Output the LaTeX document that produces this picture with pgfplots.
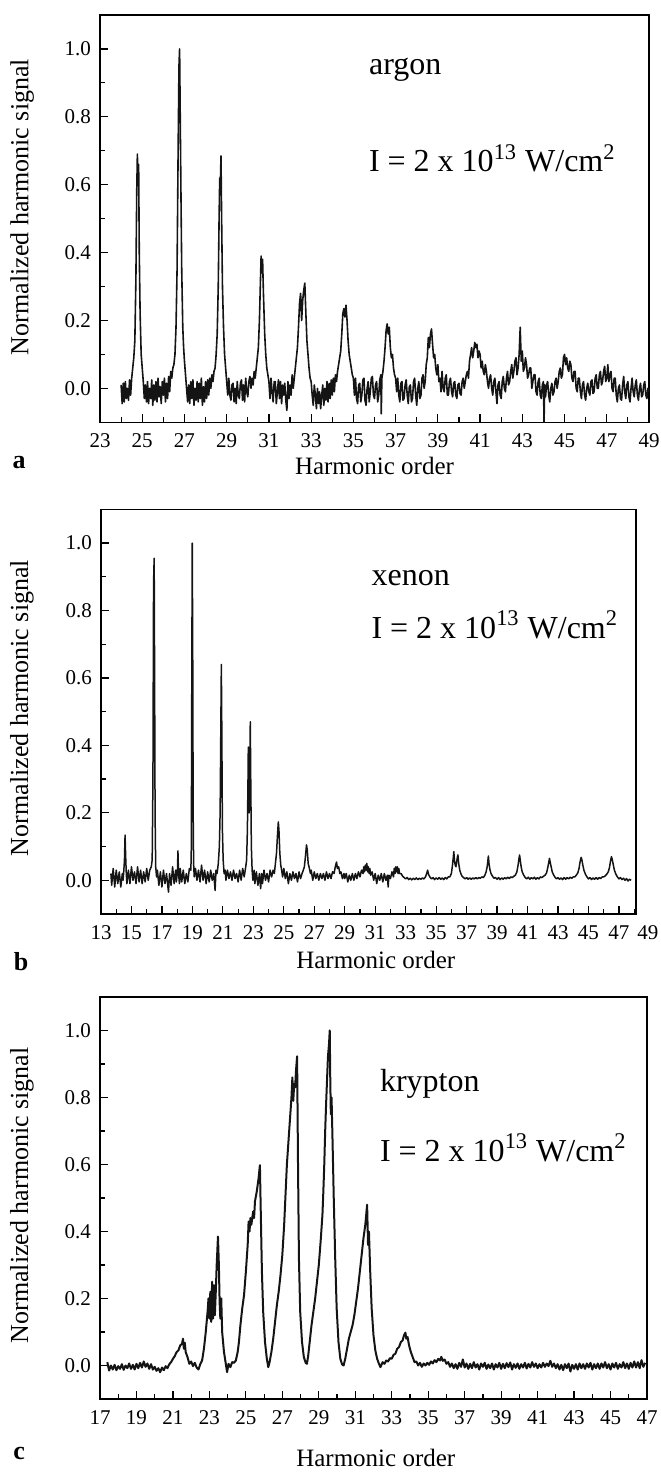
\documentclass[border=0pt]{standalone}
\usepackage{fontspec}
\setmainfont{Liberation Serif}
\usepackage{pgfplots}
\pgfplotsset{compat=1.18}
\pgfplotsset{hhg/.style={
  scale only axis, anchor=south west, clip=false,
  ymin=-0.1, ymax=1.1,
  ytick={0,0.2,0.4,0.6,0.8,1.0},
  minor ytick={0.1,0.3,0.5,0.7,0.9},
  yticklabel style={/pgf/number format/fixed, /pgf/number format/fixed zerofill, /pgf/number format/precision=1, anchor=east, xshift=-1pt},
  /pgf/number format/assume math mode=true,
  tick align=inside, xtick pos=left, ytick pos=left,
  tick style={line width=0.6pt, black},
  major tick length=4pt, minor tick length=2.5pt,
  axis line style={line width=0.7pt},
  tick label style={font=\fontsize{10.5}{12}\selectfont},
  xticklabel style={yshift=-2.3pt},
  xlabel style={font=\fontsize{12.5}{15}\selectfont, anchor=center},
  ylabel style={font=\fontsize{13}{15}\selectfont, anchor=center},
  ylabel={Normalized harmonic signal},
  xlabel={Harmonic order},
}}
\tikzset{annot/.style={anchor=base west, font=\fontsize{16}{19}\selectfont},
   panlet/.style={font=\bfseries\fontsize{13}{15}\selectfont}}
\begin{document}
\begin{tikzpicture}
\useasboundingbox (0,0) rectangle (330pt,736.5pt);
% ---------------- panel a: argon
\begin{axis}[hhg, at={(50pt,525.35pt)}, width=274.5pt, height=203.65pt,
  xmin=23, xmax=49, xtick={23,25,...,49}, minor xtick={24,26,...,48},
  xlabel style={at={(axis description cs:0.5,-0.1073)}},
  ylabel style={at={(axis description cs:-0.142,0.5286)}}]
\addplot[line width=0.8pt, black!92, line join=round] coordinates {
(24.0,0.01)(24.05,-0.045)(24.1,0.015)(24.15,-0.04)(24.2,0.02)(24.25,-0.03)(24.3,0.0)(24.35,-0.035)(24.4,0.025)(24.45,-0.02)(24.5,0.03)
(24.55,0.06)(24.6,0.09)(24.65,0.14)(24.7,0.32)(24.74,0.58)(24.77,0.69)(24.8,0.6)(24.83,0.66)(24.86,0.4)(24.9,0.22)(24.95,0.1)(25.0,0.06)(25.05,0.02)
(25.1,-0.03)(25.15,0.01)(25.2,-0.04)(25.25,0.02)(25.3,-0.045)(25.35,0.0)(25.4,-0.03)(25.45,0.025)(25.5,-0.05)(25.55,0.01)(25.6,-0.035)(25.65,0.02)(25.7,-0.04)(25.75,0.03)(25.8,-0.025)(25.85,0.005)(25.9,-0.045)(25.95,0.02)(26.0,-0.02)(26.05,0.03)(26.1,-0.04)(26.15,0.015)(26.2,-0.03)(26.25,0.035)(26.3,-0.01)(26.35,0.05)
(26.4,0.03)(26.45,0.06)(26.5,0.07)(26.55,0.1)(26.6,0.18)(26.65,0.35)(26.7,0.7)(26.74,0.95)(26.77,1.0)(26.8,0.8)(26.83,0.6)(26.87,0.35)(26.92,0.18)(26.96,0.12)(27.0,0.08)(27.05,0.04)(27.1,0.0)(27.15,-0.04)
(27.2,0.01)(27.25,-0.045)(27.3,0.02)(27.35,-0.03)(27.4,0.025)(27.45,-0.05)(27.5,0.0)(27.55,-0.035)(27.6,0.02)(27.65,-0.04)(27.7,0.015)(27.75,-0.03)(27.8,0.03)(27.85,-0.05)(27.9,0.005)(27.95,-0.04)(28.0,0.02)(28.05,-0.03)(28.1,0.025)(28.15,-0.02)(28.2,0.03)(28.25,0.0)(28.3,0.04)
(28.35,0.02)(28.4,0.05)(28.45,0.06)(28.5,0.1)(28.55,0.16)(28.6,0.3)(28.64,0.5)(28.67,0.62)(28.7,0.6)(28.73,0.685)(28.76,0.5)(28.8,0.3)(28.85,0.18)(28.9,0.1)(28.95,0.06)(29.0,0.02)(29.05,-0.02)
(29.1,0.03)(29.15,-0.02)(29.2,-0.035)(29.25,0.01)(29.3,0.015)(29.35,-0.04)(29.4,0.0)(29.45,-0.045)(29.5,0.02)(29.55,-0.02)(29.6,-0.03)(29.65,0.015)(29.7,0.025)(29.75,-0.035)(29.8,0.01)(29.85,-0.04)(29.9,0.03)(29.95,-0.01)(30.0,-0.025)(30.05,0.02)(30.1,0.035)(30.15,0.0)(30.2,0.03)(30.25,0.01)(30.3,0.05)
(30.35,0.03)(30.4,0.06)(30.45,0.09)(30.5,0.12)(30.55,0.2)(30.6,0.32)(30.63,0.39)(30.66,0.34)(30.7,0.38)(30.74,0.28)(30.8,0.16)(30.85,0.1)(30.9,0.06)(30.95,0.04)(31.0,0.02)(31.05,-0.03)
(31.1,0.03)(31.15,-0.01)(31.2,-0.04)(31.25,0.02)(31.3,0.02)(31.35,-0.045)(31.4,-0.01)(31.45,0.025)(31.5,-0.03)(31.55,0.02)(31.6,-0.045)(31.65,0.01)(31.7,-0.02)(31.75,0.015)(31.8,-0.035)(31.85,-0.065)(31.9,0.02)(31.95,-0.03)(32.0,0.01)(32.05,-0.02)(32.1,0.04)(32.15,0.0)(32.2,0.03)
(32.25,0.06)(32.3,0.09)(32.35,0.12)(32.4,0.18)(32.45,0.25)(32.5,0.28)(32.55,0.2)(32.6,0.26)(32.65,0.29)(32.7,0.31)(32.75,0.22)(32.8,0.14)(32.85,0.1)(32.9,0.06)(32.95,0.03)(33.0,0.02)(33.05,-0.02)
(33.1,-0.05)(33.15,0.01)(33.2,-0.02)(33.25,-0.06)(33.3,0.0)(33.35,-0.045)(33.4,-0.01)(33.45,-0.06)(33.5,-0.02)(33.55,0.01)(33.6,-0.05)(33.65,0.0)(33.7,-0.035)(33.75,0.02)(33.8,-0.04)(33.85,0.015)(33.9,-0.03)(33.95,0.025)(34.0,-0.02)(34.05,0.03)(34.1,-0.01)(34.15,0.04)(34.2,0.02)
(34.25,0.05)(34.3,0.07)(34.35,0.09)(34.4,0.11)(34.45,0.16)(34.5,0.22)(34.55,0.235)(34.6,0.21)(34.65,0.245)(34.7,0.2)(34.75,0.14)(34.8,0.1)(34.85,0.08)(34.9,0.06)(34.95,0.04)(35.0,0.03)(35.05,-0.02)
(35.1,0.03)(35.15,-0.03)(35.2,-0.045)(35.25,0.01)(35.3,0.015)(35.35,-0.04)(35.4,-0.02)(35.45,0.025)(35.5,0.03)(35.55,-0.035)(35.6,-0.05)(35.65,0.0)(35.7,0.02)(35.75,-0.04)(35.8,-0.01)(35.85,0.03)(35.9,0.035)(35.95,-0.02)(36.0,-0.03)(36.05,0.01)(36.1,0.02)(36.15,-0.04)(36.2,-0.02)(36.25,0.025)(36.3,0.04)(36.32,-0.075)(36.35,0.03)
(36.4,0.05)(36.45,0.08)(36.5,0.12)(36.55,0.17)(36.6,0.19)(36.65,0.16)(36.7,0.18)(36.75,0.12)(36.8,0.09)(36.85,0.1)(36.9,0.06)(36.95,0.04)(37.0,0.03)(37.05,-0.01)
(37.1,0.03)(37.15,-0.02)(37.2,-0.04)(37.25,0.015)(37.3,0.02)(37.35,-0.035)(37.4,-0.03)(37.45,0.01)(37.5,0.025)(37.55,-0.02)(37.6,-0.045)(37.65,0.005)(37.7,0.01)(37.75,-0.04)(37.8,-0.03)(37.85,0.02)(37.9,0.03)(37.95,-0.02)(38.0,-0.05)(38.05,0.0)(38.1,0.02)(38.15,-0.03)(38.2,-0.02)(38.25,0.03)(38.3,0.04)(38.35,0.0)(38.4,0.02)
(38.45,0.07)(38.5,0.09)(38.55,0.15)(38.6,0.12)(38.65,0.16)(38.7,0.175)(38.75,0.13)(38.8,0.09)(38.85,0.1)(38.9,0.06)(38.95,0.04)(39.0,0.07)(39.05,0.02)(39.1,0.03)(39.15,-0.01)
(39.2,0.05)(39.25,0.0)(39.3,-0.01)(39.35,0.03)(39.4,0.04)(39.45,-0.02)(39.5,-0.02)(39.55,0.02)(39.6,0.03)(39.65,-0.01)(39.7,-0.025)(39.75,0.015)(39.8,0.02)(39.85,-0.02)(39.9,-0.03)(39.95,0.01)(40.0,0.015)(40.05,-0.015)(40.1,-0.02)(40.15,0.02)(40.2,0.03)(40.25,0.0)(40.3,0.02)(40.35,0.04)
(40.4,0.05)(40.45,0.03)(40.5,0.08)(40.55,0.1)(40.6,0.12)(40.65,0.09)(40.7,0.11)(40.75,0.135)(40.8,0.12)(40.85,0.13)(40.9,0.09)(40.95,0.11)(41.0,0.1)(41.05,0.06)(41.1,0.08)(41.15,0.05)(41.2,0.04)(41.25,0.07)(41.3,0.05)(41.35,0.02)(41.4,0.0)(41.45,0.03)
(41.5,0.04)(41.55,0.0)(41.6,-0.02)(41.65,0.02)(41.7,0.03)(41.75,-0.01)(41.8,-0.045)(41.85,0.01)(41.9,0.02)(41.95,-0.02)(42.0,-0.03)(42.05,0.02)(42.1,0.035)(42.15,0.0)(42.2,-0.01)(42.25,0.03)(42.3,0.05)(42.35,0.01)(42.4,0.02)(42.45,0.05)
(42.5,0.07)(42.55,0.03)(42.6,0.05)(42.65,0.08)(42.7,0.09)(42.75,0.04)(42.8,0.06)(42.85,0.1)(42.9,0.18)(42.95,0.08)(43.0,0.11)(43.05,0.05)(43.1,0.06)(43.15,0.09)(43.2,0.07)(43.25,0.03)(43.3,0.04)(43.35,0.06)(43.4,0.06)(43.45,0.0)(43.5,0.02)
(43.55,0.04)(43.6,0.04)(43.65,-0.01)(43.7,-0.02)(43.75,0.02)(43.8,0.03)(43.85,-0.02)(43.9,-0.03)(43.95,0.01)(44.0,0.02)(44.03,-0.1)(44.06,0.01)(44.1,-0.025)(44.15,0.01)(44.2,0.02)(44.25,-0.02)(44.3,-0.04)(44.35,0.0)(44.4,0.015)(44.45,-0.02)(44.5,-0.01)(44.55,0.02)(44.6,0.03)(44.65,0.0)
(44.7,0.02)(44.75,0.05)(44.8,0.06)(44.85,0.03)(44.9,0.04)(44.95,0.09)(45.0,0.1)(45.05,0.07)(45.1,0.09)(45.15,0.06)(45.2,0.05)(45.25,0.08)(45.3,0.07)(45.35,0.03)(45.4,0.02)(45.45,0.05)(45.5,0.05)(45.55,0.0)(45.6,-0.01)(45.65,0.03)
(45.7,0.03)(45.75,-0.01)(45.8,-0.03)(45.85,0.01)(45.9,0.02)(45.95,-0.02)(46.0,-0.035)(46.05,0.0)(46.1,0.015)(46.15,-0.01)(46.2,-0.02)(46.25,0.02)(46.3,0.025)(46.35,-0.015)(46.4,-0.01)(46.45,0.03)(46.5,0.04)(46.55,0.0)(46.6,0.0)(46.65,0.04)
(46.7,0.05)(46.75,0.01)(46.8,0.02)(46.85,0.05)(46.9,0.065)(46.95,0.02)(47.0,0.03)(47.05,0.07)(47.1,0.02)(47.15,0.04)(47.2,0.05)(47.25,0.0)(47.3,-0.01)(47.35,0.03)(47.4,0.03)(47.45,-0.02)
(47.5,-0.04)(47.55,0.0)(47.6,0.01)(47.65,-0.03)(47.7,-0.035)(47.75,0.01)(47.8,0.035)(47.85,-0.01)(47.9,-0.03)(47.95,0.01)(48.0,0.02)(48.05,-0.025)(48.1,-0.04)(48.15,0.0)(48.2,0.03)(48.25,-0.01)(48.3,-0.025)(48.35,0.01)(48.4,0.025)(48.45,-0.02)(48.5,-0.035)(48.55,0.0)(48.6,0.015)(48.65,-0.025)(48.7,-0.02)(48.75,0.01)(48.8,0.02)(48.85,-0.02)(48.9,-0.03)(48.95,0.0)(49.0,-0.01)
};
\node[annot] at (axis description cs:0.4772,0.8527) {argon};
\node[annot] at (axis description cs:0.4772,0.6153) {I = 2 x 10\textsuperscript{13} W/cm\textsuperscript{2}};
\node[panlet] at (axis description cs:-0.1475,-0.0999) {a};
\end{axis}
% ---------------- panel b: xenon
\begin{axis}[hhg, at={(50.5pt,279.5pt)}, width=267.5pt, height=202.35pt,
  xmin=13, xmax=48.12, xtick={13,15,...,47}, minor xtick={14,16,...,48},
  xlabel style={at={(axis description cs:0.5136,-0.1137)}},
  ylabel style={at={(axis description cs:-0.1477,0.509)}}]
\addplot[line width=0.75pt, black!92, line join=round] coordinates {
(13.65,0.02)(13.7,-0.015)(13.8,0.035)(13.9,-0.02)(14.0,0.03)(14.1,-0.01)(14.2,0.025)(14.3,-0.02)(14.4,0.02)(14.45,0.0)(14.5,0.03)
(14.54,0.06)(14.58,0.134)(14.62,0.07)(14.66,0.02)
(14.7,-0.01)(14.8,0.03)(14.9,-0.01)(15.0,0.04)(15.1,0.0)(15.2,0.025)(15.3,-0.01)(15.4,0.04)(15.5,-0.005)(15.6,0.03)(15.7,-0.01)(15.8,0.025)(15.9,-0.005)(16.0,0.035)(16.1,0.0)(16.2,0.03)(16.3,0.04)
(16.36,0.06)(16.41,0.3)(16.45,0.88)(16.49,0.955)(16.52,0.6)(16.55,0.2)(16.59,0.04)
(16.65,0.01)(16.7,0.03)(16.8,-0.015)(16.9,0.025)(17.0,-0.02)(17.1,0.03)(17.2,-0.01)(17.3,0.02)(17.43,-0.035)(17.5,0.02)(17.6,-0.015)(17.7,0.04)(17.8,-0.01)(17.9,0.03)(17.95,-0.005)(18.02,0.03)
(18.05,0.087)(18.09,0.02)
(18.15,-0.01)(18.2,0.035)(18.3,-0.005)(18.4,0.03)(18.5,-0.01)(18.6,0.02)(18.7,-0.005)(18.8,0.035)(18.9,0.03)
(18.93,0.1)(18.96,0.6)(18.99,1.0)(19.02,0.7)(19.05,0.2)(19.08,0.05)
(19.12,0.01)(19.2,0.035)(19.3,0.0)(19.4,0.03)(19.5,-0.005)(19.6,0.045)(19.7,0.0)(19.8,0.03)(19.9,-0.01)(20.0,0.025)(20.1,-0.005)(20.2,0.03)(20.3,0.0)(20.4,0.02)(20.49,-0.03)(20.55,0.03)
(20.62,0.02)(20.7,0.05)(20.77,0.1)(20.82,0.2)(20.86,0.42)(20.9,0.64)(20.93,0.45)(20.97,0.15)(21.02,0.06)(21.08,0.02)
(21.15,0.03)(21.2,0.0)(21.3,0.03)(21.4,0.005)(21.5,0.025)(21.6,0.0)(21.7,0.03)(21.8,0.005)(21.9,0.02)(22.0,-0.005)(22.1,0.03)(22.2,0.0)(22.3,0.035)(22.4,0.01)(22.5,0.04)
(22.56,0.06)(22.61,0.15)(22.65,0.3)(22.67,0.395)(22.7,0.32)(22.73,0.2)(22.76,0.3)(22.8,0.47)(22.83,0.3)(22.87,0.1)(22.92,0.03)
(22.97,0.0)(23.05,0.03)(23.1,-0.01)(23.2,0.025)(23.3,-0.015)(23.4,0.02)(23.48,-0.025)(23.55,0.02)(23.6,-0.01)(23.7,0.03)(23.8,0.0)(23.9,0.02)(24.0,-0.005)(24.1,0.03)(24.2,0.01)(24.3,0.03)
(24.38,0.02)(24.45,0.05)(24.52,0.08)(24.58,0.13)(24.64,0.173)(24.68,0.15)(24.74,0.08)(24.8,0.045)(24.86,0.03)
(24.92,0.01)(25.0,0.035)(25.1,0.005)(25.2,0.025)(25.3,-0.01)(25.4,0.02)(25.5,0.0)(25.6,0.025)(25.7,0.005)(25.8,0.02)(25.9,-0.005)(26.0,0.025)(26.1,0.005)(26.2,0.02)
(26.28,0.03)(26.35,0.04)(26.42,0.07)(26.49,0.105)(26.54,0.09)(26.6,0.05)(26.68,0.035)(26.75,0.02)
(26.8,0.03)(26.9,0.0)(27.0,0.025)(27.1,0.005)(27.2,0.02)(27.3,0.0)(27.4,0.02)(27.5,0.005)(27.6,0.02)(27.7,0.0)(27.8,0.025)(27.9,0.005)(28.0,0.02)(28.1,0.005)(28.2,0.025)
(28.3,0.02)(28.38,0.04)(28.46,0.054)(28.52,0.035)(28.6,0.04)(28.68,0.02)
(28.75,0.025)(28.85,0.005)(28.95,0.02)(29.0,0.005)(29.1,0.02)(29.2,-0.005)(29.3,0.015)(29.4,0.0)(29.5,0.02)(29.6,0.0)(29.7,0.02)(29.8,0.005)(29.9,0.025)(30.0,0.01)(30.1,0.03)
(30.2,0.02)(30.25,0.04)(30.3,0.025)(30.35,0.045)(30.4,0.03)(30.45,0.05)(30.5,0.025)(30.55,0.04)(30.6,0.02)(30.65,0.035)(30.7,0.015)
(30.8,0.025)(30.9,0.0)(31.0,0.02)(31.1,-0.01)(31.2,0.015)(31.3,0.0)(31.4,0.02)(31.5,-0.005)(31.6,0.02)(31.7,0.0)(31.8,0.015)(31.85,-0.02)(31.9,0.015)(32.0,0.005)(32.1,0.025)
(32.2,0.01)(32.25,0.035)(32.3,0.02)(32.35,0.04)(32.4,0.025)(32.45,0.04)(32.5,0.02)(32.55,0.035)(32.6,0.02)(32.7,0.02)(32.8,0.012)
(32.9,0.008)(33.0,0.004)(33.1,0.008)(33.2,0.002)(33.3,0.006)(33.4,0.001)(33.5,0.006)(33.6,0.002)(33.7,0.007)(33.8,0.002)(33.9,0.006)(34.0,0.003)(34.1,0.007)(34.2,0.004)(34.3,0.01)
(34.38,0.02)(34.44,0.03)(34.5,0.018)(34.58,0.01)
(34.7,0.004)(34.8,0.008)(34.9,0.002)(35.0,0.007)(35.1,0.003)(35.2,0.008)(35.3,0.003)(35.4,0.007)(35.5,0.002)(35.6,0.008)(35.7,0.004)(35.8,0.01)(35.9,0.01)
(36.0,0.02)(36.06,0.04)(36.12,0.065)(36.16,0.085)(36.2,0.06)(36.25,0.045)(36.3,0.04)(36.35,0.055)(36.4,0.07)(36.43,0.075)(36.48,0.05)(36.55,0.03)(36.62,0.02)(36.7,0.012)(36.8,0.008)
(36.9,0.004)(37.0,0.008)(37.1,0.003)(37.2,0.007)(37.3,0.003)(37.4,0.007)(37.5,0.004)(37.6,0.008)(37.7,0.004)(37.8,0.008)(37.9,0.006)(38.0,0.01)(38.1,0.008)(38.2,0.015)
(38.28,0.025)(38.35,0.04)(38.4,0.06)(38.43,0.072)(38.47,0.05)(38.53,0.032)(38.6,0.02)(38.7,0.012)(38.8,0.006)
(38.9,0.008)(39.0,0.003)(39.1,0.008)(39.2,0.002)(39.3,0.007)(39.4,0.003)(39.5,0.008)(39.6,0.004)(39.7,0.009)(39.8,0.005)(39.9,0.01)(40.0,0.008)(40.1,0.012)(40.2,0.015)
(40.3,0.025)(40.38,0.045)(40.44,0.065)(40.48,0.075)(40.52,0.06)(40.58,0.04)(40.65,0.025)(40.75,0.015)(40.85,0.008)
(40.95,0.004)(41.05,0.009)(41.15,0.003)(41.25,0.008)(41.35,0.004)(41.45,0.009)(41.55,0.003)(41.65,0.008)(41.75,0.004)(41.85,0.01)(41.95,0.008)(42.05,0.012)(42.15,0.015)
(42.25,0.022)(42.33,0.038)(42.4,0.055)(42.44,0.065)(42.48,0.055)(42.55,0.04)(42.62,0.025)(42.72,0.015)(42.82,0.008)
(42.9,0.004)(43.0,0.008)(43.1,0.003)(43.2,0.007)(43.3,0.002)(43.4,0.008)(43.5,0.003)(43.6,0.008)(43.7,0.004)(43.8,0.009)(43.9,0.006)(44.0,0.01)(44.1,0.01)(44.2,0.015)
(44.3,0.022)(44.38,0.035)(44.45,0.055)(44.52,0.068)(44.57,0.06)(44.63,0.045)(44.7,0.03)(44.8,0.018)(44.9,0.01)
(45.0,0.004)(45.1,0.008)(45.2,0.002)(45.3,0.007)(45.4,0.003)(45.5,0.008)(45.6,0.003)(45.7,0.008)(45.8,0.005)(45.9,0.01)(46.0,0.01)(46.1,0.013)(46.2,0.018)
(46.3,0.025)(46.38,0.038)(46.45,0.058)(46.51,0.07)(46.56,0.062)(46.62,0.048)(46.7,0.03)(46.8,0.018)(46.9,0.01)
(47.0,0.004)(47.1,0.008)(47.2,0.002)(47.3,0.006)(47.4,0.0)(47.5,0.005)(47.6,-0.002)(47.7,0.003)(47.8,0.0)
};
\node[annot] at (axis description cs:0.4925,0.8105) {xenon};
\node[annot] at (axis description cs:0.4925,0.6813) {I = 2 x 10\textsuperscript{13} W/cm\textsuperscript{2}};
\node[anchor=north, yshift=-2.3pt, font=\fontsize{10.5}{12}\selectfont] at (axis description cs:1.0224,0) {49};
\node[panlet] at (axis description cs:-0.1495,-0.1186) {b};
\end{axis}
% ---------------- panel c: krypton
\begin{axis}[hhg, at={(50pt,37pt)}, width=273.5pt, height=201pt,
  xmin=17, xmax=47, xtick={17,19,...,47}, minor xtick={18,20,...,46},
  xlabel style={at={(axis description cs:0.5042,-0.1468)}},
  ylabel style={at={(axis description cs:-0.1426,0.5065)}}]
\addplot[line width=1.0pt, black!92, line join=round] coordinates {
(17.4,0.01)(17.5,-0.015)(17.6,0.0)(17.7,-0.012)(17.8,0.002)(17.9,-0.014)(18.0,-0.002)(18.1,-0.01)(18.2,0.004)(18.3,-0.013)(18.4,0.0)(18.5,-0.008)(18.6,0.006)(18.7,-0.01)(18.8,0.002)(18.9,-0.012)(19.0,0.005)(19.1,-0.008)(19.2,0.008)(19.3,-0.006)(19.4,0.012)(19.5,-0.004)(19.6,0.006)(19.7,-0.01)(19.8,0.004)(19.9,-0.012)(20.0,-0.004)(20.1,-0.016)(20.2,-0.008)(20.3,-0.02)(20.4,-0.006)(20.5,-0.014)(20.6,-0.002)(20.7,-0.008)(20.8,0.004)
(20.9,0.01)(21.0,0.02)(21.1,0.028)(21.2,0.04)(21.3,0.045)(21.4,0.06)(21.5,0.065)(21.55,0.08)(21.6,0.05)(21.65,0.068)(21.7,0.04)(21.8,0.025)(21.9,0.005)(22.0,0.012)(22.1,-0.002)(22.2,0.008)(22.3,-0.006)(22.4,-0.012)(22.5,0.004)(22.6,0.015)
(22.7,0.05)(22.8,0.1)(22.85,0.13)(22.9,0.16)(22.95,0.2)(23.0,0.14)(23.05,0.22)(23.1,0.13)(23.15,0.25)(23.2,0.14)(23.25,0.24)(23.3,0.15)(23.35,0.22)(23.4,0.3)(23.47,0.385)(23.52,0.3)(23.56,0.19)(23.6,0.14)(23.65,0.2)(23.7,0.1)(23.8,0.04)(23.9,0.005)(23.97,-0.02)(24.05,0.005)(24.15,-0.005)(24.25,0.01)(24.35,0.008)(24.45,0.015)
(24.55,0.04)(24.62,0.07)(24.7,0.12)(24.8,0.17)(24.9,0.21)(25.0,0.28)(25.1,0.36)(25.15,0.43)(25.2,0.4)(25.25,0.44)(25.3,0.42)(25.4,0.46)(25.45,0.44)(25.5,0.49)(25.6,0.52)(25.7,0.56)(25.77,0.598)(25.82,0.45)(25.88,0.28)(25.95,0.16)(26.05,0.07)(26.15,0.02)(26.23,-0.005)(26.3,0.01)
(26.4,0.04)(26.5,0.08)(26.6,0.13)(26.7,0.18)(26.8,0.22)(26.9,0.27)(27.0,0.33)(27.1,0.42)(27.2,0.54)(27.25,0.6)(27.3,0.64)(27.4,0.72)(27.5,0.8)(27.55,0.86)(27.6,0.79)(27.65,0.84)(27.7,0.83)(27.75,0.88)(27.81,0.923)(27.86,0.6)(27.91,0.32)(27.98,0.16)(28.08,0.07)(28.18,0.025)(28.28,0.008)(28.35,0.005)
(28.42,0.03)(28.5,0.07)(28.6,0.12)(28.7,0.16)(28.8,0.2)(28.9,0.25)(29.0,0.3)(29.1,0.37)(29.2,0.45)(29.25,0.52)(29.3,0.6)(29.35,0.7)(29.4,0.78)(29.45,0.85)(29.5,0.92)(29.56,0.96)(29.6,1.0)(29.63,0.85)(29.66,0.75)(29.7,0.8)(29.75,0.68)(29.82,0.5)(29.9,0.32)(29.98,0.17)(30.08,0.07)(30.18,0.02)(30.28,0.003)(30.36,0.0)
(30.45,0.02)(30.55,0.05)(30.65,0.08)(30.75,0.1)(30.85,0.12)(30.95,0.15)(31.05,0.19)(31.15,0.23)(31.25,0.28)(31.35,0.33)(31.45,0.38)(31.55,0.42)(31.6,0.45)(31.65,0.48)(31.7,0.36)(31.75,0.4)(31.82,0.28)(31.9,0.17)(32.0,0.09)(32.1,0.045)(32.2,0.02)(32.3,0.005)(32.38,-0.005)
(32.5,0.01)(32.6,0.005)(32.7,0.015)(32.8,0.012)(32.9,0.022)(33.0,0.02)(33.1,0.032)(33.2,0.035)(33.3,0.05)(33.4,0.055)(33.5,0.07)(33.6,0.075)(33.67,0.09)(33.75,0.098)(33.8,0.08)(33.87,0.085)(33.95,0.06)(34.05,0.04)(34.15,0.025)(34.25,0.01)(34.35,0.012)(34.45,0.0)(34.55,0.008)(34.65,-0.004)(34.75,0.006)(34.85,0.0)
(34.95,0.008)(35.05,0.002)(35.15,0.012)(35.25,0.006)(35.35,0.016)(35.45,0.01)(35.55,0.02)(35.65,0.015)(35.72,0.026)(35.8,0.014)(35.9,0.018)(36.0,0.005)(36.1,0.01)(36.2,-0.004)
(36.3,0.006)(36.4,-0.008)(36.5,0.004)(36.6,-0.01)(36.7,0.008)(36.8,-0.004)(36.9,0.018)(37.0,-0.006)(37.1,0.006)(37.2,-0.01)(37.3,0.005)(37.4,-0.008)(37.5,0.01)(37.6,-0.006)(37.7,0.004)(37.8,-0.012)(37.9,0.006)(38.0,-0.004)(38.1,0.008)(38.2,-0.01)(38.3,0.003)(38.4,-0.008)(38.5,0.006)(38.6,-0.012)(38.7,0.004)(38.8,-0.006)(38.9,0.008)(39.0,-0.01)(39.1,0.005)(39.2,-0.008)(39.3,0.007)(39.4,-0.005)(39.5,0.009)(39.6,-0.012)(39.7,0.004)(39.8,-0.007)(39.9,0.006)(40.0,-0.01)(40.1,0.004)(40.2,-0.006)(40.3,0.008)(40.4,-0.009)(40.5,0.005)(40.6,-0.006)(40.7,0.01)(40.8,-0.004)(40.9,0.006)(41.0,-0.008)(41.1,0.004)(41.2,-0.006)(41.3,0.008)(41.4,-0.004)(41.5,0.006)(41.6,-0.002)(41.7,0.014)(41.8,-0.004)(41.9,0.006)(42.0,-0.008)(42.1,0.004)(42.2,-0.012)(42.3,0.002)(42.4,-0.014)(42.5,0.004)(42.6,-0.008)(42.7,0.006)(42.8,-0.018)(42.9,0.002)(43.0,-0.01)(43.1,0.004)(43.2,-0.012)(43.3,0.006)(43.4,-0.008)(43.5,0.004)(43.6,-0.01)(43.7,0.006)(43.8,-0.006)(43.9,0.008)(44.0,-0.012)(44.1,0.004)(44.2,-0.008)(44.3,0.006)(44.4,-0.01)(44.5,0.006)(44.6,-0.006)(44.7,0.01)(44.8,-0.008)(44.9,0.004)(45.0,-0.012)(45.1,0.006)(45.2,-0.006)(45.3,0.008)(45.4,-0.01)(45.5,0.004)(45.6,-0.006)(45.7,0.01)(45.8,-0.008)(45.9,0.006)(46.0,-0.01)(46.1,0.008)(46.2,-0.006)(46.3,0.012)(46.4,-0.006)(46.5,0.01)(46.6,-0.008)(46.7,0.016)(46.8,-0.004)(46.9,0.008)
};
\node[annot] at (axis description cs:0.4991,0.7644) {krypton};
\node[annot] at (axis description cs:0.4991,0.592) {I = 2 x 10\textsuperscript{13} W/cm\textsuperscript{2}};
\node[panlet] at (axis description cs:-0.1477,-0.1368) {c};
\end{axis}
\end{tikzpicture}
\end{document}
